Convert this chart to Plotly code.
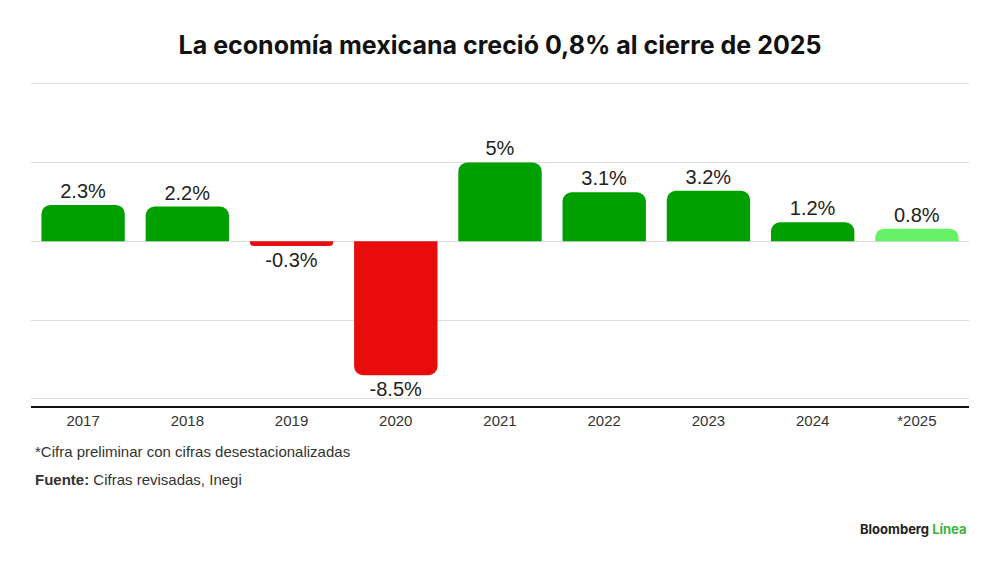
import plotly.graph_objects as go

# Crecimiento anual del PIB de México (%)
years = ["2017", "2018", "2019", "2020", "2021", "2022", "2023", "2024", "*2025"]
growth = [2.3, 2.2, -0.3, -8.5, 5.0, 3.1, 3.2, 1.2, 0.8]
labels = ["2.3%", "2.2%", "-0.3%", "-8.5%", "5%", "3.1%", "3.2%", "1.2%", "0.8%"]

GREEN = "#00a000"
RED = "#e80c0c"
LIGHT_GREEN = "#66f066"

colors = []
for y, v in zip(years, growth):
    if y.startswith("*"):
        colors.append(LIGHT_GREEN)
    elif v < 0:
        colors.append(RED)
    else:
        colors.append(GREEN)

fig = go.Figure()

fig.add_trace(go.Bar(
    x=years,
    y=growth,
    text=labels,
    textposition="outside",
    textfont=dict(size=20, color="#222222", family="Liberation Sans, Arial, sans-serif"),
    cliponaxis=False,
    marker=dict(color=colors, line=dict(width=0), cornerradius=9),
    hoverinfo="skip",
))

# page has an 8px body margin, so the figure is sized 992x553
fig.update_layout(
    width=992,
    height=553,
    margin=dict(l=23, r=31, t=74, b=155),
    paper_bgcolor="white",
    plot_bgcolor="white",
    bargap=0.2,
    showlegend=False,
    font=dict(family="Liberation Sans, Arial, sans-serif", color="#333333"),
    title=dict(
        text="<b>La economía mexicana creció 0,8% al cierre de 2025</b>",
        x=0.496, xanchor="center", y=0.933, yanchor="middle",
        font=dict(size=25, color="#111111", family="Inter, Liberation Sans, sans-serif"),
    ),
)

fig.update_xaxes(
    showgrid=False,
    showline=True, linecolor="#111111", linewidth=2,
    ticks="", tickfont=dict(size=15, color="#333333"),
    fixedrange=True,
)
fig.update_yaxes(
    range=[-10.45, 10.1],
    tickvals=[-10, -5, 0, 5, 10],
    showticklabels=False,
    showgrid=True, gridcolor="#dddddd", gridwidth=1,
    zeroline=True, zerolinecolor="#dddddd", zerolinewidth=1,
    showline=False,
    fixedrange=True,
)

fig.add_annotation(
    text="*Cifra preliminar con cifras desestacionalizadas",
    xref="paper", yref="paper", x=0.002, y=-0.139,
    xanchor="left", yanchor="middle", showarrow=False,
    font=dict(size=15, color="#333333"),
)
fig.add_annotation(
    text="<b>Fuente:</b> Cifras revisadas, Inegi",
    xref="paper", yref="paper", x=0.002, y=-0.228,
    xanchor="left", yanchor="middle", showarrow=False,
    font=dict(size=15, color="#333333"),
)
fig.add_annotation(
    text="<b>Bloomberg <span style='color:#3cb43c'>Línea</span></b>",
    xref="paper", yref="paper", x=1.0, y=-0.38,
    xanchor="right", yanchor="middle", showarrow=False,
    font=dict(size=13, color="#222222", family="Inter, Liberation Sans, sans-serif"),
)

fig.write_html("out.html")
